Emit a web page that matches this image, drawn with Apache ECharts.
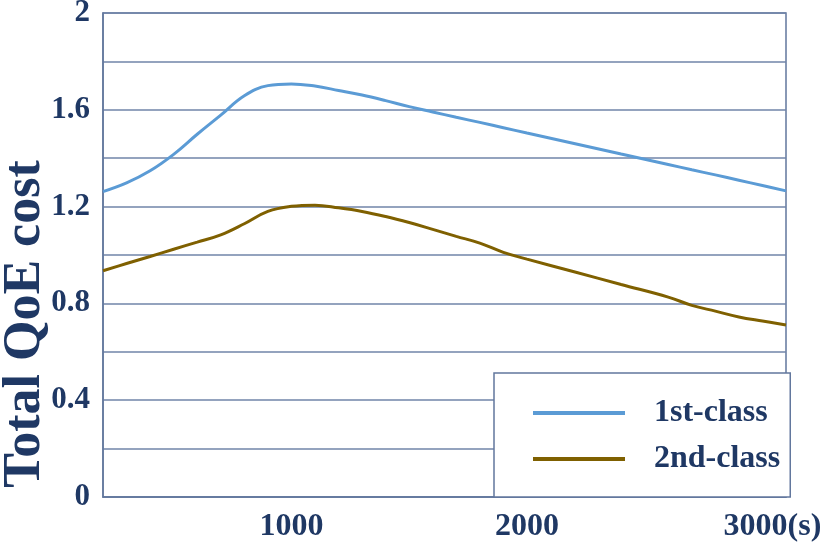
<!DOCTYPE html>
<html><head><meta charset="utf-8">
<script src="https://cdn.jsdelivr.net/npm/echarts@6/dist/echarts.min.js"></script>
<style>html,body{margin:0;padding:0;background:#fff}#c{width:825px;height:544px}</style>
</head><body><div id="c"></div>
<script>
const times = [200,300,400,500,600,700,800,900,1000,1100,1200,1300,1400,1500,1600,1700,1800,1900,2000,2200,2400,2600,2700,2800,2900,3000,3100];
const firstClass = [1.262,1.298,1.348,1.416,1.499,1.578,1.658,1.700,1.707,1.698,1.680,1.661,1.638,1.613,1.591,1.569,1.548,1.526,1.504,1.461,1.417,1.374,1.352,1.331,1.309,1.287,1.265];
const secondClass = [0.935,0.965,0.994,1.024,1.053,1.083,1.129,1.180,1.201,1.206,1.195,1.180,1.159,1.134,1.106,1.077,1.049,1.011,0.983,0.931,0.878,0.826,0.792,0.768,0.744,0.727,0.711];
const seriesNames = ['1st-class','2nd-class'];
const xTickValues = [1000,2000,3000];
const xTickLabels = ['1000','2000','3000(s)'];
const yAxisTitle = 'Total QoE cost';

const navy = '#1f3864';
const gridCol = '#7084a8';
const frameCol = '#62779d';
const font = "'Liberation Serif','Times New Roman',serif";

const chart = echarts.init(document.getElementById('c'), null, {renderer:'canvas'});
chart.setOption({
  animation:false,
  backgroundColor:'#fff',
  grid:{left:103,right:39,top:13,bottom:47,show:true,borderColor:frameCol,borderWidth:1.5,containLabel:false,outerBoundsMode:'none'},
  legend:{
    orient:'vertical', left:494, top:373,
    padding:[22,10,20,39], itemGap:10,
    backgroundColor:'#fff', borderColor:frameCol, borderWidth:1.5,
    icon:'rect', itemWidth:92, itemHeight:4,
    textStyle:{color:navy, fontFamily:font, fontWeight:'bold', fontSize:32, lineHeight:36, padding:[0,0,0,24]},
    data:seriesNames
  },
  xAxis:{
    type:'value', min:200, max:3100,
    axisLine:{show:true, lineStyle:{color:frameCol, width:1.5}},
    axisTick:{show:false},
    splitLine:{show:false},
    axisLabel:{
      customValues:xTickValues, margin:14,
      color:navy, fontFamily:font, fontWeight:'bold', fontSize:32,
      formatter:function(v){
        const i = xTickValues.indexOf(v);
        if (i < 0) return '';
        if (i === xTickValues.length-1) return '{r|' + xTickLabels[i] + '}';
        return xTickLabels[i];
      },
      rich:{r:{color:navy, fontFamily:font, fontWeight:'bold', fontSize:32, padding:[0,0,0,20]}}
    }
  },
  yAxis:{
    type:'value', min:0, max:2, interval:0.2,
    name:yAxisTitle, nameLocation:'middle', nameRotate:90, nameGap:51, nameMoveOverlap:false,
    nameTextStyle:{color:navy, fontFamily:font, fontWeight:'bold', fontSize:52, padding:[0,138,0,0]},
    axisLine:{show:true, lineStyle:{color:frameCol, width:1.5}},
    axisTick:{show:false},
    splitLine:{show:true, lineStyle:{color:gridCol, width:1.5}},
    axisLabel:{
      margin:13, color:navy, fontFamily:font, fontWeight:'bold', fontSize:31,
      formatter:function(v){
        const k = Math.round(v*10);
        if (k % 4 !== 0) return '';
        return String(k/10);
      }
    }
  },
  series:[
    {name:seriesNames[0], type:'line', smooth:0.4, symbol:'none', lineStyle:{color:'#5b9bd5', width:3}, itemStyle:{color:'#5b9bd5'},
     data:times.map((t,i)=>[t, firstClass[i]])},
    {name:seriesNames[1], type:'line', smooth:0.4, symbol:'none', lineStyle:{color:'#7f6000', width:3}, itemStyle:{color:'#7f6000'},
     data:times.map((t,i)=>[t, secondClass[i]])}
  ]
});
</script></body></html>
